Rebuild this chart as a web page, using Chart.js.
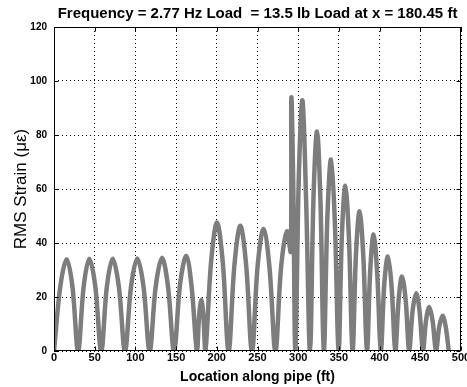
<!DOCTYPE html>
<html>
<head>
<meta charset="utf-8">
<script src="https://cdn.jsdelivr.net/npm/chart.js@4"></script>
<style>
  html, body { margin: 0; padding: 0; background: #fff; }
</style>
</head>
<body>
<canvas id="myChart" width="467" height="387"></canvas>
<script>
// Тексти
const titleText = 'Frequency = 2.77 Hz Load  = 13.5 lb Load at x = 180.45 ft';
const xTitle = 'Location along pipe (ft)';
const yTitle = 'RMS Strain (\u03bc\u03b5)';

// Поділки осей
const xTicks = [0, 50, 100, 150, 200, 250, 300, 350, 400, 450, 500];
const yTicks = [0, 20, 40, 60, 80, 100, 120];

// Положення вздовж труби (ft), по аркам: нуль, схил, вершина, схил, нуль
const locationFt = [
    0, 7.8, 15.6, 22.6, 29.6,
    36.5, 43.4, 50.7, 58,
    65, 72.1, 79.6, 87.2,
    94.7, 102.3, 109.9, 117.5,
    125, 132.7, 140, 147.5,
    155, 162.5, 169, 175.6,
    178.3, 181, 183.5, 186,
    193, 200.2, 207.3, 214.5,
    221.7, 228.9, 236, 243.2,
    250.3, 257.5, 264.7, 272,
    279, 286.2, 290.8, 291.6, 294, 296.5,
    300.8, 305.2, 309.8, 314.5,
    318.8, 323.1, 327.3, 331.5,
    335.9, 340.3, 345, 349.6,
    353.7, 357.9, 362.3, 366.8,
    371, 375.4, 380, 384.5,
    388.5, 392.6, 397, 401.5,
    405.8, 410.2, 414.7, 419.3,
    423.4, 427.5, 432, 436.3,
    440.6, 445, 449, 453.3,
    457.1, 461, 465.2, 469.3,
    473.3, 477.4, 481.2, 485
];

// RMS деформація (мікрострейн)
const rmsStrain = [
    0, 24, 34, 24, 0,
    24, 34.2, 24, 0,
    24, 34.2, 24, 0,
    24, 34.3, 24, 0,
    24, 34.5, 24, 0,
    25, 35.2, 24, 0,
    13, 19, 13, 0,
    33, 47.6, 33, 0,
    32, 46.4, 32, 0,
    32, 45.2, 31, 0,
    31, 44.3, 36.9, 93.7, 60, 0,
    65, 92.8, 55, 0,
    57, 81.3, 56, 0,
    50, 70.9, 48, 0,
    43, 61.2, 42, 0,
    36, 51.7, 35, 0,
    30, 43.1, 29, 0,
    25, 35, 24, 0,
    19, 27.6, 19, 0,
    15, 21.4, 15, 0,
    11.5, 16.3, 11, 0,
    9, 13.1, 9, 0
];

const points = locationFt.map((x, i) => ({ x: x, y: rmsStrain[i] }));

const fontFamily = '"Liberation Sans", Arial, Helvetica, sans-serif';

// Рамка, внутрішні риски та заголовок
const boxFrame = {
    id: 'boxFrame',
    afterDraw(chart) {
        const {ctx, chartArea: {left, right, top, bottom}, scales: {x, y}} = chart;
        ctx.save();
        ctx.strokeStyle = '#000';
        ctx.lineWidth = 1;
        const l = Math.round(left) + 0.5, r = Math.round(right) - 0.5;
        const t = Math.round(top) + 0.5, b = Math.round(bottom) - 0.5;
        ctx.strokeRect(l, t, r - l, b - t);
        ctx.beginPath();
        xTicks.forEach(v => {
            const px = Math.round(x.getPixelForValue(v)) + 0.5;
            ctx.moveTo(px, b); ctx.lineTo(px, b - 4);
            ctx.moveTo(px, t); ctx.lineTo(px, t + 4);
        });
        yTicks.forEach(v => {
            const py = Math.round(y.getPixelForValue(v)) + 0.5;
            ctx.moveTo(l, py); ctx.lineTo(l + 4, py);
            ctx.moveTo(r, py); ctx.lineTo(r - 4, py);
        });
        ctx.stroke();

        ctx.font = 'bold 15px ' + fontFamily;
        ctx.fillStyle = '#000';
        ctx.textAlign = 'center';
        ctx.textBaseline = 'alphabetic';
        ctx.fillText(titleText, (left + right) / 2, 18);
        ctx.restore();
    }
};

const ctx = document.getElementById('myChart').getContext('2d');

const myChart = new Chart(ctx, {
    type: 'line',
    data: {
        datasets: [{
            label: 'RMS Strain',
            data: points,
            borderColor: '#7d7d7d',
            borderWidth: 4.5,
            pointRadius: 0,
            tension: 0.35,
            fill: false
        }]
    },
    options: {
        responsive: false,
        animation: false,
        devicePixelRatio: 1,
        layout: {
            padding: { top: 27, right: 6, left: 0, bottom: 0 }
        },
        plugins: {
            legend: { display: false },
            tooltip: { enabled: false },
            title: { display: false }
        },
        scales: {
            x: {
                type: 'linear',
                min: 0,
                max: 500,
                afterBuildTicks: (scale) => { scale.ticks = xTicks.map(v => ({ value: v })); },
                afterFit: (scale) => {
                    scale.height = 36;
                    scale.paddingLeft = 0;
                    scale.paddingRight = 0;
                },
                ticks: {
                    color: '#000',
                    padding: 0,
                    maxRotation: 0,
                    autoSkip: false,
                    font: { family: fontFamily, size: 11, weight: 'bold' }
                },
                grid: {
                    color: '#000',
                    lineWidth: 1,
                    drawTicks: false
                },
                border: { display: false, dash: [1, 3] },
                title: {
                    display: true,
                    text: xTitle,
                    color: '#000',
                    padding: { top: 0, bottom: 1 },
                    font: { family: fontFamily, size: 14, weight: 'bold' }
                }
            },
            y: {
                type: 'linear',
                min: 0,
                max: 120,
                afterBuildTicks: (scale) => { scale.ticks = yTicks.map(v => ({ value: v })); },
                afterFit: (scale) => {
                    scale.width = 54;
                    scale.paddingTop = 0;
                    scale.paddingBottom = 0;
                },
                ticks: {
                    color: '#000',
                    padding: 7,
                    autoSkip: false,
                    font: { family: fontFamily, size: 10, weight: 'bold' }
                },
                grid: {
                    color: '#000',
                    lineWidth: 1,
                    drawTicks: false
                },
                border: { display: false, dash: [1, 3] },
                title: {
                    display: true,
                    text: yTitle,
                    color: '#000',
                    padding: { top: 11, bottom: 0 },
                    font: { family: fontFamily, size: 17, weight: 'normal' }
                }
            }
        }
    },
    plugins: [boxFrame]
});
</script>
</body>
</html>
